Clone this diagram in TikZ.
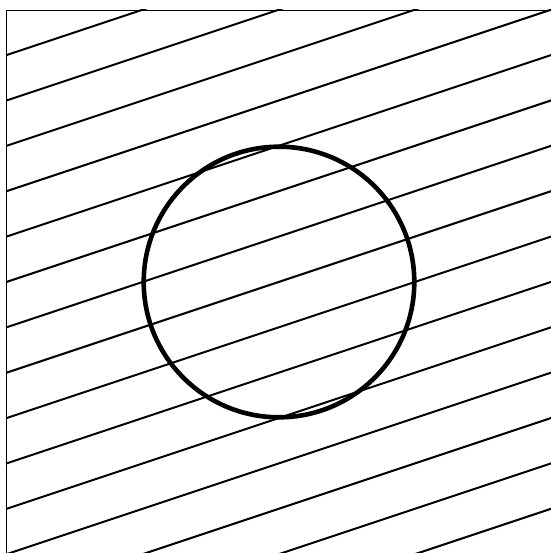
\documentclass[tikz,border=0pt]{standalone}
\begin{document}
\begin{tikzpicture}[x=1pt,y=-1pt,
  frameline/.style={line width=0.9pt,black},
  hatchline/.style={line width=2pt,black},
  ringline/.style={line width=4.6pt,black}]
\useasboundingbox (0,0) rectangle (550,553);
\fill[white] (0,0) rectangle (550,553);
% frame (left and top edges visible)
\coordinate (tl) at (6,10);
\coordinate (tr) at (552,10);
\coordinate (bl) at (6,555);
\draw[frameline] (bl) -- (tl) -- (tr);
% hatching
\begin{scope}
  \clip (6,10) rectangle (560,560);
  \foreach \k in {1,...,16}{
    \pgfmathsetmacro{\yl}{9.9+45.37*\k}
    \draw[hatchline] (6,\yl) -- ({6+3*700},{\yl-700});
  }
\end{scope}
% circle
\coordinate (c) at (279,282);
\draw[ringline] (c) circle[radius=135.3];
\end{tikzpicture}
\end{document}
